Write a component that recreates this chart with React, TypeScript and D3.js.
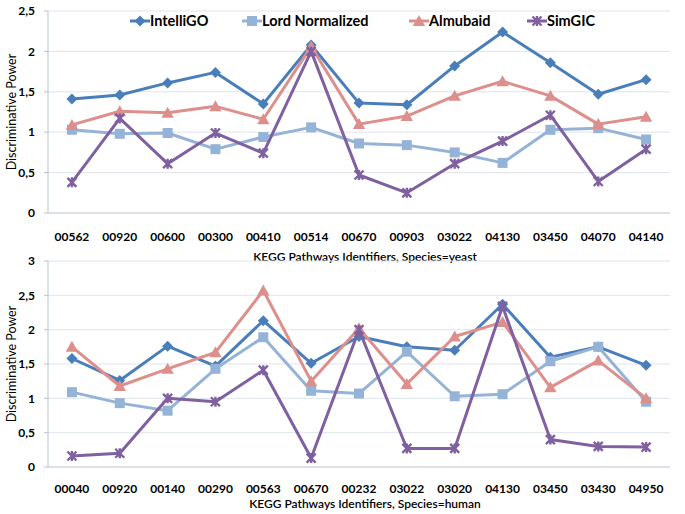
import { useEffect, useRef } from "react";
import * as d3 from "d3";

const seriesNames = ["IntelliGO", "Lord Normalized", "Almubaid", "SimGIC"];
const seriesColors = ["#4a7ebb", "#95b3d7", "#dd8f8c", "#7f60a0"];
const markerKinds = ["diamond", "square", "triangle", "star"];

// yeast panel
const yeastIds = ["00562", "00920", "00600", "00300", "00410", "00514", "00670", "00903", "03022", "04130", "03450", "04070", "04140"];
const yeastIntelliGO = [1.41, 1.46, 1.61, 1.74, 1.35, 2.08, 1.36, 1.34, 1.82, 2.24, 1.86, 1.47, 1.65];
const yeastLord = [1.03, 0.98, 0.99, 0.79, 0.94, 1.06, 0.86, 0.84, 0.75, 0.62, 1.03, 1.05, 0.91];
const yeastAlmubaid = [1.09, 1.26, 1.24, 1.32, 1.16, 2.06, 1.1, 1.2, 1.45, 1.63, 1.45, 1.1, 1.19];
const yeastSimGIC = [0.38, 1.17, 0.61, 0.99, 0.74, 2.0, 0.47, 0.25, 0.61, 0.89, 1.21, 0.39, 0.79];
const yeastTicks = [0, 0.5, 1, 1.5, 2, 2.5];

// human panel
const humanIds = ["00040", "00920", "00140", "00290", "00563", "00670", "00232", "03022", "03020", "04130", "03450", "03430", "04950"];
const humanIntelliGO = [1.58, 1.26, 1.76, 1.47, 2.13, 1.51, 1.9, 1.75, 1.7, 2.37, 1.6, 1.75, 1.48];
const humanLord = [1.09, 0.93, 0.82, 1.43, 1.89, 1.11, 1.07, 1.68, 1.03, 1.06, 1.54, 1.75, 0.95];
const humanAlmubaid = [1.75, 1.18, 1.43, 1.67, 2.57, 1.25, 2.02, 1.21, 1.9, 2.11, 1.16, 1.55, 1.0];
const humanSimGIC = [0.16, 0.2, 1.0, 0.95, 1.41, 0.13, 2.0, 0.27, 0.27, 2.34, 0.4, 0.3, 0.29];
const humanTicks = [0, 0.5, 1, 1.5, 2, 2.5, 3];

const font = "Lato, 'DejaVu Sans', sans-serif";

function markerPath(kind: string) {
  if (kind === "diamond") return "M0,-5.5L5.5,0L0,5.5L-5.5,0Z";
  if (kind === "square") return "M-5,-5H5V5H-5Z";
  if (kind === "triangle") return "M0,-6L6.2,5L-6.2,5Z";
  return "M-4.5,-4.5L4.5,4.5M-4.5,4.5L4.5,-4.5M0,-5V5";
}

function drawMarker(g: any, kind: string, color: string, x: number, y: number) {
  const p = g.append("path").attr("d", markerPath(kind)).attr("transform", `translate(${x},${y})`);
  if (kind === "star") p.attr("fill", "none").attr("stroke", color).attr("stroke-width", 2.4);
  else p.attr("fill", color);
}

interface Panel {
  ids: string[];
  series: number[][];
  ticks: number[];
  top: number;
  bottom: number;
  xTitle: string;
  xTitleY: number;
  labelY: number;
}

const left = 48;
const right = 670;

function drawPanel(svg: any, cfg: Panel) {
  const x = d3.scalePoint<string>().domain(cfg.ids).range([left, right]).padding(0.5);
  const y = d3.scaleLinear().domain([0, d3.max(cfg.ticks) as number]).range([cfg.bottom, cfg.top]);
  const g = svg.append("g");

  g.selectAll("line.grid")
    .data(cfg.ticks.filter((t) => t > 0))
    .enter()
    .append("line")
    .attr("x1", left)
    .attr("x2", right)
    .attr("y1", (d: number) => y(d))
    .attr("y2", (d: number) => y(d))
    .attr("stroke", "#dfe4ec")
    .attr("stroke-width", 1);

  // axes
  g.append("line").attr("x1", left).attr("x2", right).attr("y1", y(0)).attr("y2", y(0)).attr("stroke", "#b9c2d0");
  g.append("line").attr("x1", left).attr("x2", left).attr("y1", y(0)).attr("y2", y(cfg.ticks[cfg.ticks.length - 1])).attr("stroke", "#b9c2d0");
  g.selectAll("line.tick")
    .data(cfg.ticks)
    .enter()
    .append("line")
    .attr("x1", left - 4)
    .attr("x2", left)
    .attr("y1", (d: number) => y(d))
    .attr("y2", (d: number) => y(d))
    .attr("stroke", "#b9c2d0");

  g.selectAll("text.ytick")
    .data(cfg.ticks)
    .enter()
    .append("text")
    .attr("x", 35)
    .attr("y", (d: number) => y(d))
    .attr("dy", "0.35em")
    .attr("text-anchor", "end")
    .attr("font-family", font)
    .attr("font-weight", "bold")
    .attr("font-size", 12)
    .attr("fill", "#000")
    .text((d: number) => String(d).replace(".", ","));

  g.selectAll("text.xtick")
    .data(cfg.ids)
    .enter()
    .append("text")
    .attr("x", (d: string) => x(d))
    .attr("y", cfg.labelY)
    .attr("dy", "0.35em")
    .attr("text-anchor", "middle")
    .attr("font-family", font)
    .attr("font-weight", "bold")
    .attr("font-size", 12)
    .attr("fill", "#000")
    .text((d: string) => d);

  g.append("text")
    .attr("transform", `translate(12,${(cfg.top + cfg.bottom) / 2}) rotate(-90)`)
    .attr("dy", "0.35em")
    .attr("text-anchor", "middle")
    .attr("font-family", font)
    .attr("font-size", 12.5)
    .attr("fill", "#000")
    .text("Discriminative Power");

  g.append("text")
    .attr("x", 365)
    .attr("y", cfg.xTitleY)
    .attr("dy", "0.35em")
    .attr("text-anchor", "middle")
    .attr("font-family", font)
    .attr("font-weight", 600)
    .attr("font-size", 12)
    .attr("fill", "#000")
    .text(cfg.xTitle);

  const line = d3
    .line<number>()
    .x((_, i) => x(cfg.ids[i]) as number)
    .y((d) => y(d));

  cfg.series.forEach((vals, si) => {
    const color = seriesColors[si];
    g.append("path")
      .attr("d", line(vals))
      .attr("fill", "none")
      .attr("stroke", color)
      .attr("stroke-width", 3)
      .attr("stroke-linejoin", "round");
    vals.forEach((v, i) => drawMarker(g, markerKinds[si], color, x(cfg.ids[i]) as number, y(v)));
  });
}

export default function App() {
  const ref = useRef<SVGSVGElement | null>(null);

  useEffect(() => {
    const svg = d3.select(ref.current);
    svg.selectAll("*").remove();

    drawPanel(svg, {
      ids: yeastIds,
      series: [yeastIntelliGO, yeastLord, yeastAlmubaid, yeastSimGIC],
      ticks: yeastTicks,
      top: 11,
      bottom: 213,
      xTitle: "KEGG Pathways Identifiers, Species=yeast",
      xTitleY: 257,
      labelY: 237,
    });

    drawPanel(svg, {
      ids: humanIds,
      series: [humanIntelliGO, humanLord, humanAlmubaid, humanSimGIC],
      ticks: humanTicks,
      top: 261,
      bottom: 467,
      xTitle: "KEGG Pathways Identifiers, Species=human",
      xTitleY: 504,
      labelY: 489,
    });

    // legend
    const legendX = [140, 252, 419, 537];
    const lg = svg.append("g");
    seriesNames.forEach((name, i) => {
      const cx = legendX[i];
      lg.append("line")
        .attr("x1", cx - 10)
        .attr("x2", cx + 10)
        .attr("y1", 21)
        .attr("y2", 21)
        .attr("stroke", seriesColors[i])
        .attr("stroke-width", 3);
      drawMarker(lg, markerKinds[i], seriesColors[i], cx, 21);
      lg.append("text")
        .attr("x", cx + 10)
        .attr("y", 21)
        .attr("dy", "0.35em")
        .attr("font-family", font)
        .attr("font-weight", "bold")
        .attr("font-size", 14.5)
        .attr("fill", "#000")
        .text(name);
    });
  }, []);

  return (
    <svg
      ref={ref}
      width={685}
      height={514}
      style={{ position: "absolute", left: 0, top: 0, background: "#fff" }}
    />
  );
}
